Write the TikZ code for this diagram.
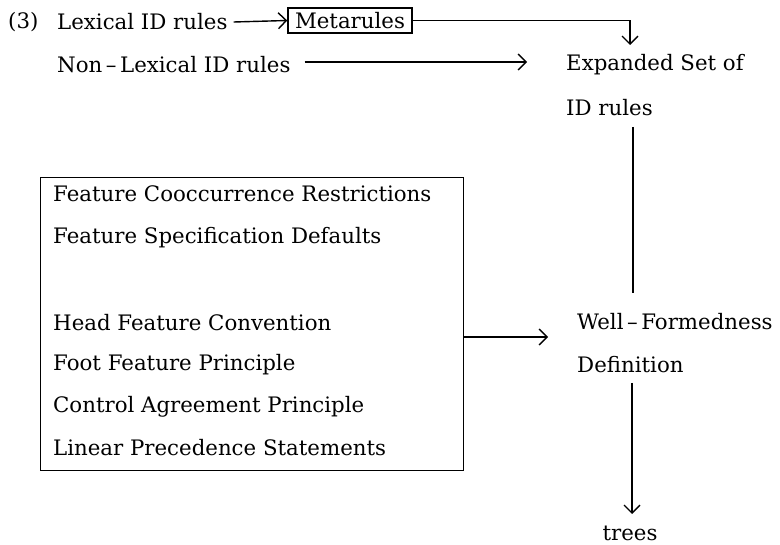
\documentclass[tikz,border=0pt]{standalone}
\usepackage{fontspec}
\setmainfont{DejaVu Serif}
\usetikzlibrary{arrows.meta}
\begin{document}
\begin{tikzpicture}[x=1pt,y=-1pt,
  txt/.style={anchor=west,inner sep=0pt,font=\fontsize{21.3}{25}\selectfont},
  conn/.style={line width=1.4pt},
  arr/.style={conn,-{Straight Barb[length=8pt,width=16pt,line width=1.4pt]}}]
\useasboundingbox (0,0) rectangle (780,545);
\node[txt] (three) at (8,22) {(3)};
\node[txt] (lex) at (57,22) {Lexical ID rules};
\node[draw,line width=1.4pt,minimum width=124pt,minimum height=25pt,inner sep=0pt,font=\fontsize{21.3}{25}\selectfont] (meta) at (350,20.5) {Metarules};
\draw[arr] ([xshift=6pt]lex.east) -- (meta.west);
\node[txt] (nonlex) at (57,65) {Non\,--\,Lexical ID rules};
\node[txt] (exp) at (566,65) {Expanded Set of};
\node[txt] (idr) at (566,108) {ID rules};
\draw[arr] (meta.east) -| (630,45) coordinate (mtip);
\coordinate (nltip) at (527,62);
\draw[arr] ([xshift=14pt]nonlex.east |- nltip) -- (nltip);
\coordinate (vtop) at (633,127);
\coordinate (vend) at (633,293);
\draw[conn] (vtop) -- (vend);
\node[draw,line width=1.4pt,minimum width=423pt,minimum height=293pt,anchor=north west] (box) at (40,177) {};
\node[txt] (f1) at (53,194) {Feature Cooccurrence Restrictions};
\node[txt] (f2) at (53,238) {Feature Specification Defaults};
\node[txt] (f3) at (53,323) {Head Feature Convention};
\node[txt] (f4) at (53,365) {Foot Feature Principle};
\node[txt] (f5) at (53,407) {Control Agreement Principle};
\node[txt] (f6) at (53,448) {Linear Precedence Statements};
\node[txt] (wf) at (577,322) {Well\,--\,Formedness};
\node[txt] (def) at (577,365) {Definition};
\coordinate (bxtip) at (548,337);
\draw[arr] (box.east |- bxtip) -- (bxtip);
\node[txt,anchor=base] (trees) at (630,540) {trees};
\draw[arr] (632,383) -- (632,514);
\end{tikzpicture}
\end{document}
